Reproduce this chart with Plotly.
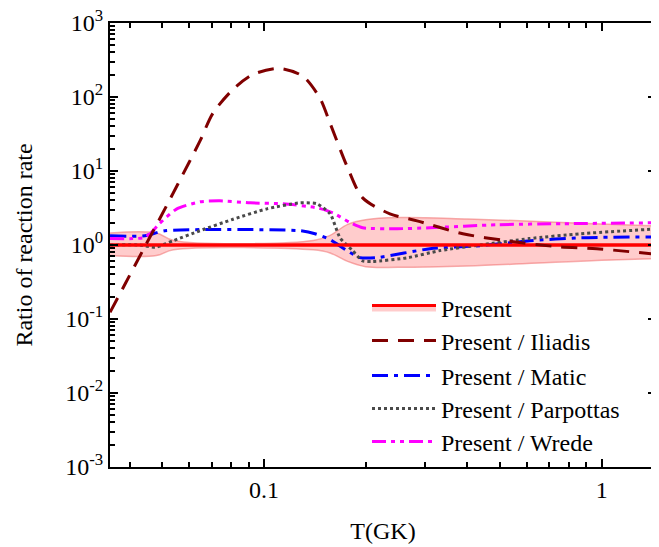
import plotly.graph_objects as go

# ---------------- data ----------------
T_BAND = [0.035, 0.048, 0.054, 0.14, 0.157, 0.177, 0.2, 0.25, 0.4, 0.7, 1.0, 1.49]
BAND_UPPER = [1.45, 1.45, 1.15, 1.15, 1.35, 1.9, 2.2, 2.35, 2.25, 2.05, 1.92, 1.8]
BAND_LOWER = [0.72, 0.72, 0.86, 0.86, 0.78, 0.6, 0.51, 0.50, 0.52, 0.58, 0.62, 0.66]
PRESENT = [1.0] * len(T_BAND)

T_ILIADIS = [0.035, 0.039, 0.0447, 0.05, 0.0556, 0.0646, 0.0706, 0.081, 0.0928, 0.1115,
             0.1305, 0.1465, 0.157, 0.177, 0.196, 0.236, 0.284, 0.388, 0.524, 0.738, 0.969, 1.49]
R_ILIADIS = [0.123, 0.311, 1.01, 2.64, 6.68, 25.3, 60.4, 127, 202, 243,
             190, 96, 44, 11, 4.33, 2.64, 2.12, 1.42, 1.14, 0.95, 0.89, 0.74]

T_MATIC = [0.035, 0.0444, 0.0509, 0.1278, 0.1416, 0.157, 0.176, 0.1925, 0.216, 0.31,
           0.436, 0.613, 0.862, 1.49]
R_MATIC = [1.33, 1.33, 1.56, 1.56, 1.42, 1.18, 0.84, 0.675, 0.675, 0.89,
           0.98, 1.14, 1.25, 1.29]

T_PARPOTTAS = [0.035, 0.0429, 0.0476, 0.0538, 0.0646, 0.081, 0.102, 0.128, 0.1435, 0.157,
               0.168, 0.183, 0.196, 0.21, 0.265, 0.332, 0.437, 0.61, 0.866, 1.49]
R_PARPOTTAS = [1.0, 1.0, 0.93, 1.14, 1.56, 2.23, 3.08, 3.71, 3.60, 2.64,
               1.25, 0.84, 0.61, 0.60, 0.67, 0.84, 1.0, 1.22, 1.42, 1.66]

T_WREDE = [0.035, 0.0438, 0.046, 0.049, 0.0552, 0.0646, 0.074, 0.091, 0.114, 0.1435,
           0.16, 0.18, 0.196, 0.248, 0.31, 0.49, 0.77, 1.49]
R_WREDE = [1.22, 1.25, 1.42, 1.94, 3.08, 3.83, 3.95, 3.71, 3.60, 3.18,
           2.72, 2.0, 1.71, 1.66, 1.71, 1.88, 1.94, 2.0]

Y_TICKS = [1e-3, 1e-2, 1e-1, 1, 10, 100, 1000]
Y_TICKTEXT = ["10<sup>-3</sup>", "10<sup>-2</sup>", "10<sup>-1</sup>", "10<sup>0</sup>",
              "10<sup>1</sup>", "10<sup>2</sup>", "10<sup>3</sup>"]
X_TICKS = [0.1, 1]
X_TICKTEXT = ["0.1", "1"]

NAMES = ["Present", "Present / Iliadis", "Present / Matic", "Present / Parpottas", "Present / Wrede"]

# ---------------- styling ----------------
FONT = "Times New Roman"
FS = 24
PINK = "rgba(255,0,0,0.2)"
PINK_EDGE = "rgba(240,110,110,0.55)"

fig = go.Figure()

fig.add_trace(go.Scatter(x=T_BAND, y=BAND_LOWER, mode="lines", line=dict(color=PINK_EDGE, width=1.5, shape="spline"),
                         showlegend=False, hoverinfo="skip"))
fig.add_trace(go.Scatter(x=T_BAND, y=PRESENT, mode="lines", name=NAMES[0], fill="tonexty", fillcolor=PINK,
                         line=dict(color="#ff0000", width=3), legend="legend"))
fig.add_trace(go.Scatter(x=T_BAND, y=BAND_UPPER, mode="lines", fill="tonexty", fillcolor=PINK,
                         line=dict(color=PINK_EDGE, width=1.5, shape="spline"), showlegend=False, hoverinfo="skip"))

fig.add_trace(go.Scatter(x=T_MATIC, y=R_MATIC, mode="lines", name=NAMES[2],
                         line=dict(color="#0000ff", width=3, dash="16px,6px,4px,6px", shape="spline", smoothing=0.6),
                         legend="legend3"))
fig.add_trace(go.Scatter(x=T_WREDE, y=R_WREDE, mode="lines", name=NAMES[4],
                         line=dict(color="#ff00ff", width=3, dash="14px,5px,4px,5px,4px,5px", shape="spline", smoothing=0.6),
                         legend="legend5"))
fig.add_trace(go.Scatter(x=T_PARPOTTAS, y=R_PARPOTTAS, mode="lines", name=NAMES[3],
                         line=dict(color="#4a4a4a", width=3, dash="3px,3px", shape="spline", smoothing=0.6),
                         legend="legend4"))
fig.add_trace(go.Scatter(x=T_BAND, y=PRESENT, mode="lines", line=dict(color="#ff0000", width=3),
                         showlegend=False, hoverinfo="skip"))
fig.add_trace(go.Scatter(x=T_ILIADIS, y=R_ILIADIS, mode="lines", name=NAMES[1],
                         line=dict(color="#800000", width=3, dash="16px,10px", shape="spline", smoothing=0.8),
                         legend="legend2"))

# page body has an 8px default margin: the figure is made 8px smaller and shifted accordingly
OFF = 8
W, H = 659 - OFF, 547 - OFF
ML, MR, MT, MB = 110 - OFF, 3, 23 - OFF, 80
plot_h = H - MT - MB


def ly(pix):
    # pix is a window pixel row
    return (H - MB - (pix - OFF)) / plot_h


leg_x = (367 - OFF - ML) / (W - ML - MR)
leg_common = dict(x=leg_x, xanchor="left", yanchor="middle", bgcolor="rgba(0,0,0,0)",
                  font=dict(family=FONT, size=FS, color="black"), itemwidth=64, borderwidth=0)
legend_rows = [308, 341, 376, 409, 442]

minor_x = [m * 10 ** e for e in (-2, -1, 0) for m in range(2, 10)]
minor_y = [m * 10 ** e for e in range(-3, 3) for m in range(2, 10)]

fig.update_layout(
    template="none",
    width=W, height=H,
    margin=dict(l=ML, r=MR, t=MT, b=MB, autoexpand=False),
    paper_bgcolor="white", plot_bgcolor="white",
    font=dict(family=FONT, size=FS, color="black"),
    legend=dict(y=ly(legend_rows[0]), **leg_common),
    legend2=dict(y=ly(legend_rows[1]), **leg_common),
    legend3=dict(y=ly(legend_rows[2]), **leg_common),
    legend4=dict(y=ly(legend_rows[3]), **leg_common),
    legend5=dict(y=ly(legend_rows[4]), **leg_common),
    xaxis=dict(type="log", range=[-1.456, 0.161], showgrid=False, zeroline=False, automargin=False,
               showline=True, linecolor="black", linewidth=2, mirror="ticks",
               ticks="inside", ticklen=8, tickwidth=2, tickcolor="black",
               tickmode="array", tickvals=X_TICKS, ticktext=X_TICKTEXT, ticklabeloverflow="allow",
               tickfont=dict(family=FONT, size=FS, color="black"),
               minor=dict(ticks="inside", ticklen=5, tickwidth=1.5, tickcolor="black",
                          tickmode="array", tickvals=minor_x, showgrid=False),
               title=dict(text="T(GK)", font=dict(family=FONT, size=FS, color="black"), standoff=20)),
    yaxis=dict(type="log", range=[-3, 3], showgrid=False, zeroline=False, automargin=False,
               showline=True, linecolor="black", linewidth=2, mirror="ticks",
               ticks="inside", ticklen=8, tickwidth=2, tickcolor="black",
               tickmode="array", tickvals=Y_TICKS, ticktext=Y_TICKTEXT, ticklabeloverflow="allow",
               tickfont=dict(family=FONT, size=FS, color="black"),
               minor=dict(ticks="inside", ticklen=5, tickwidth=1.5, tickcolor="black",
                          tickmode="array", tickvals=minor_y, showgrid=False),
               title=dict(text="Ratio of reaction rate", font=dict(family=FONT, size=FS, color="black"),
                          standoff=26)),
)

fig.write_html("out.html")
